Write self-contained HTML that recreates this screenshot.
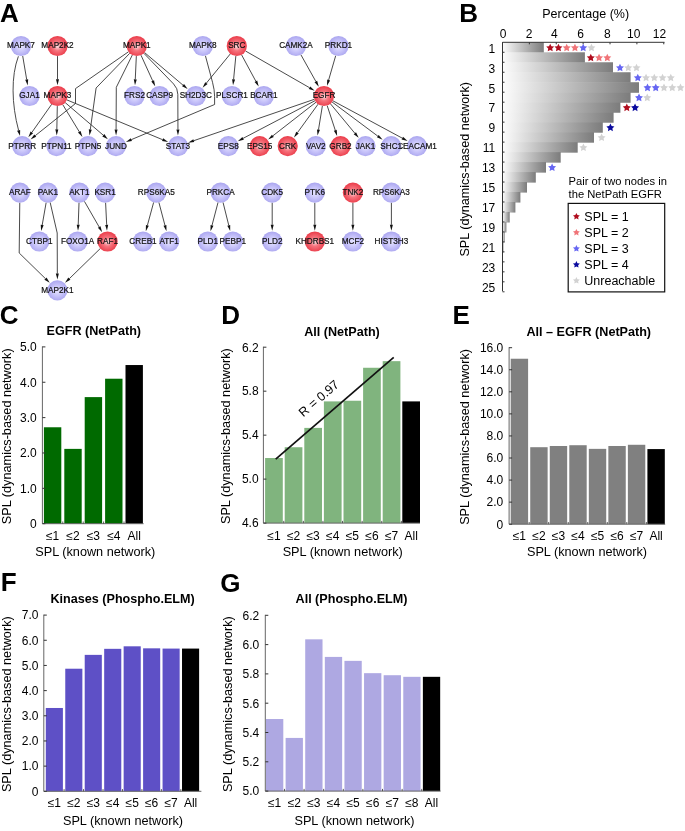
<!DOCTYPE html>
<html><head><meta charset="utf-8"><style>
html,body{margin:0;padding:0;background:#fff;}
svg{display:block;will-change:transform;font-family:"Liberation Sans", sans-serif;}
</style></head><body>
<svg width="685" height="831" viewBox="0 0 685 831">
<rect width="685" height="831" fill="#fff"/>
<defs><radialGradient id="gb" cx="50%" cy="52%" r="52%"><stop offset="0" stop-color="#e8e6ff"/><stop offset="0.5" stop-color="#c9c5fa"/><stop offset="1" stop-color="#aaa5ef"/></radialGradient><radialGradient id="gr" cx="50%" cy="52%" r="52%"><stop offset="0" stop-color="#fde2e4"/><stop offset="0.42" stop-color="#f6747e"/><stop offset="1" stop-color="#ea3a48"/></radialGradient><linearGradient id="barg" x1="0" x2="1" y1="0" y2="0"><stop offset="0" stop-color="#fdfdfd"/><stop offset="1" stop-color="#7c7c7c"/></linearGradient></defs>
<path d="M22.69,55.96 L26.70,79.54" fill="none" stroke="#2a2a2a" stroke-width="0.85"/>
<path d="M27.71,85.45 L25.22,79.79 L28.18,79.28 Z" fill="#111"/>
<path d="M57.50,56.10 L57.50,79.30" fill="none" stroke="#2a2a2a" stroke-width="0.85"/>
<path d="M57.50,85.30 L56.00,79.30 L59.00,79.30 Z" fill="#111"/>
<path d="M128.51,51.76 L75.50,88.60 L75.50,103.50 L35.25,135.67" fill="none" stroke="#2a2a2a" stroke-width="0.85"/>
<path d="M30.56,139.42 L34.31,134.50 L36.18,136.85 Z" fill="#111"/>
<path d="M129.77,53.25 L96.10,88.00 L90.31,129.56" fill="none" stroke="#2a2a2a" stroke-width="0.85"/>
<path d="M89.48,135.50 L88.82,129.35 L91.79,129.77 Z" fill="#111"/>
<path d="M132.31,55.05 L116.30,87.30 L116.09,129.40" fill="none" stroke="#2a2a2a" stroke-width="0.85"/>
<path d="M116.05,135.40 L114.59,129.39 L117.59,129.41 Z" fill="#111"/>
<path d="M136.34,56.09 L135.27,79.32" fill="none" stroke="#2a2a2a" stroke-width="0.85"/>
<path d="M134.99,85.31 L133.77,79.25 L136.77,79.39 Z" fill="#111"/>
<path d="M140.99,55.19 L152.67,80.81" fill="none" stroke="#2a2a2a" stroke-width="0.85"/>
<path d="M155.16,86.26 L151.31,81.43 L154.04,80.18 Z" fill="#111"/>
<path d="M144.51,52.53 L183.06,85.20" fill="none" stroke="#2a2a2a" stroke-width="0.85"/>
<path d="M187.64,89.08 L182.09,86.35 L184.03,84.06 Z" fill="#111"/>
<path d="M143.83,53.25 L173.62,83.99 Q177.80,88.30 177.82,94.30 L177.94,129.40" fill="none" stroke="#2a2a2a" stroke-width="0.85"/>
<path d="M177.96,135.40 L176.44,129.41 L179.44,129.39 Z" fill="#111"/>
<path d="M205.42,55.76 L212.53,82.27 Q214.60,90.00 214.60,96.53 L214.60,104.49 Q214.60,104.50 214.59,104.50 L131.39,139.61" fill="none" stroke="#2a2a2a" stroke-width="0.85"/>
<path d="M125.86,141.94 L130.80,138.23 L131.97,140.99 Z" fill="#111"/>
<path d="M230.40,53.81 L206.39,83.09" fill="none" stroke="#2a2a2a" stroke-width="0.85"/>
<path d="M202.58,87.73 L205.23,82.14 L207.55,84.04 Z" fill="#111"/>
<path d="M235.83,56.05 L233.60,79.38" fill="none" stroke="#2a2a2a" stroke-width="0.85"/>
<path d="M233.02,85.35 L232.10,79.23 L235.09,79.52 Z" fill="#111"/>
<path d="M241.60,54.89 L255.87,81.31" fill="none" stroke="#2a2a2a" stroke-width="0.85"/>
<path d="M258.72,86.59 L254.55,82.02 L257.18,80.59 Z" fill="#111"/>
<path d="M245.56,51.02 L309.51,87.69" fill="none" stroke="#2a2a2a" stroke-width="0.85"/>
<path d="M314.72,90.68 L308.77,88.99 L310.26,86.39 Z" fill="#111"/>
<path d="M300.93,54.81 L315.84,81.43" fill="none" stroke="#2a2a2a" stroke-width="0.85"/>
<path d="M318.77,86.66 L314.53,82.16 L317.15,80.70 Z" fill="#111"/>
<path d="M335.69,55.70 L328.65,79.96" fill="none" stroke="#2a2a2a" stroke-width="0.85"/>
<path d="M326.98,85.72 L327.21,79.54 L330.09,80.38 Z" fill="#111"/>
<path d="M51.68,104.26 L31.82,132.45" fill="none" stroke="#2a2a2a" stroke-width="0.85"/>
<path d="M28.36,137.35 L30.59,131.58 L33.05,133.31 Z" fill="#111"/>
<path d="M57.30,106.10 L56.83,129.40" fill="none" stroke="#2a2a2a" stroke-width="0.85"/>
<path d="M56.71,135.40 L55.33,129.37 L58.33,129.43 Z" fill="#111"/>
<path d="M62.75,104.63 L79.32,131.84" fill="none" stroke="#2a2a2a" stroke-width="0.85"/>
<path d="M82.44,136.96 L78.03,132.62 L80.60,131.06 Z" fill="#111"/>
<path d="M65.17,102.57 L103.32,135.24" fill="none" stroke="#2a2a2a" stroke-width="0.85"/>
<path d="M107.87,139.14 L102.34,136.38 L104.29,134.10 Z" fill="#111"/>
<path d="M66.83,99.88 L162.58,139.69" fill="none" stroke="#2a2a2a" stroke-width="0.85"/>
<path d="M168.12,141.99 L162.00,141.07 L163.16,138.30 Z" fill="#111"/>
<path d="M314.45,99.28 L193.80,140.68" fill="none" stroke="#2a2a2a" stroke-width="0.85"/>
<path d="M188.12,142.63 L193.31,139.26 L194.28,142.10 Z" fill="#111"/>
<path d="M315.05,100.68 L243.10,138.35" fill="none" stroke="#2a2a2a" stroke-width="0.85"/>
<path d="M237.78,141.14 L242.40,137.03 L243.79,139.68 Z" fill="#111"/>
<path d="M316.03,102.21 L272.87,135.84" fill="none" stroke="#2a2a2a" stroke-width="0.85"/>
<path d="M268.14,139.52 L271.95,134.65 L273.80,137.02 Z" fill="#111"/>
<path d="M318.07,104.18 L297.50,132.58" fill="none" stroke="#2a2a2a" stroke-width="0.85"/>
<path d="M293.98,137.44 L296.28,131.70 L298.71,133.46 Z" fill="#111"/>
<path d="M322.37,105.97 L318.50,129.62" fill="none" stroke="#2a2a2a" stroke-width="0.85"/>
<path d="M317.53,135.54 L317.02,129.38 L319.98,129.86 Z" fill="#111"/>
<path d="M327.16,105.59 L335.28,130.24" fill="none" stroke="#2a2a2a" stroke-width="0.85"/>
<path d="M337.15,135.94 L333.85,130.71 L336.70,129.77 Z" fill="#111"/>
<path d="M330.44,103.78 L354.85,133.24" fill="none" stroke="#2a2a2a" stroke-width="0.85"/>
<path d="M358.67,137.86 L353.69,134.20 L356.00,132.28 Z" fill="#111"/>
<path d="M332.10,102.04 L377.81,136.12" fill="none" stroke="#2a2a2a" stroke-width="0.85"/>
<path d="M382.62,139.70 L376.91,137.32 L378.71,134.92 Z" fill="#111"/>
<path d="M332.89,100.79 L402.30,138.18" fill="none" stroke="#2a2a2a" stroke-width="0.85"/>
<path d="M407.58,141.03 L401.59,139.50 L403.01,136.86 Z" fill="#111"/>
<path d="M19.78,202.70 L19.20,253.00 L45.45,278.63" fill="none" stroke="#2a2a2a" stroke-width="0.85"/>
<path d="M49.74,282.82 L44.40,279.71 L46.50,277.56 Z" fill="#111"/>
<path d="M46.15,202.55 L42.19,225.05" fill="none" stroke="#2a2a2a" stroke-width="0.85"/>
<path d="M41.15,230.96 L40.72,224.79 L43.67,225.31 Z" fill="#111"/>
<path d="M50.17,202.44 L57.20,233.00 L57.34,273.60" fill="none" stroke="#2a2a2a" stroke-width="0.85"/>
<path d="M57.36,279.60 L55.84,273.61 L58.84,273.59 Z" fill="#111"/>
<path d="M79.03,202.69 L78.21,224.81" fill="none" stroke="#2a2a2a" stroke-width="0.85"/>
<path d="M77.99,230.81 L76.72,224.76 L79.71,224.87 Z" fill="#111"/>
<path d="M84.43,201.36 L99.18,227.02" fill="none" stroke="#2a2a2a" stroke-width="0.85"/>
<path d="M102.17,232.22 L97.88,227.77 L100.48,226.27 Z" fill="#111"/>
<path d="M105.60,202.69 L106.68,224.82" fill="none" stroke="#2a2a2a" stroke-width="0.85"/>
<path d="M106.98,230.81 L105.18,224.89 L108.18,224.75 Z" fill="#111"/>
<path d="M100.26,248.55 L69.36,278.65" fill="none" stroke="#2a2a2a" stroke-width="0.85"/>
<path d="M65.06,282.83 L68.32,277.57 L70.41,279.72 Z" fill="#111"/>
<path d="M153.65,202.35 L147.38,225.39" fill="none" stroke="#2a2a2a" stroke-width="0.85"/>
<path d="M145.81,231.18 L145.94,224.99 L148.83,225.78 Z" fill="#111"/>
<path d="M158.88,202.37 L164.94,225.35" fill="none" stroke="#2a2a2a" stroke-width="0.85"/>
<path d="M166.47,231.15 L163.49,225.74 L166.39,224.97 Z" fill="#111"/>
<path d="M218.04,202.37 L212.03,225.34" fill="none" stroke="#2a2a2a" stroke-width="0.85"/>
<path d="M210.51,231.15 L210.58,224.96 L213.48,225.72 Z" fill="#111"/>
<path d="M223.04,202.40 L228.76,225.30" fill="none" stroke="#2a2a2a" stroke-width="0.85"/>
<path d="M230.21,231.12 L227.30,225.66 L230.21,224.93 Z" fill="#111"/>
<path d="M272.20,202.70 L272.20,224.80" fill="none" stroke="#2a2a2a" stroke-width="0.85"/>
<path d="M272.20,230.80 L270.70,224.80 L273.70,224.80 Z" fill="#111"/>
<path d="M314.80,202.70 L314.80,224.80" fill="none" stroke="#2a2a2a" stroke-width="0.85"/>
<path d="M314.80,230.80 L313.30,224.80 L316.30,224.80 Z" fill="#111"/>
<path d="M352.90,202.70 L352.90,224.80" fill="none" stroke="#2a2a2a" stroke-width="0.85"/>
<path d="M352.90,230.80 L351.40,224.80 L354.40,224.80 Z" fill="#111"/>
<path d="M391.40,202.70 L391.40,224.80" fill="none" stroke="#2a2a2a" stroke-width="0.85"/>
<path d="M391.40,230.80 L389.90,224.80 L392.90,224.80 Z" fill="#111"/>
<path d="M18.40,56.30 C11.00,76.00 11.50,104.00 18.60,130.40" fill="none" stroke="#2a2a2a" stroke-width="0.85"/>
<path d="M20.03,135.71 L17.05,130.82 L20.15,129.98 Z" fill="#111"/>
<circle cx="21.0" cy="46.0" r="10.1" fill="url(#gb)"/>
<text x="21.00" y="48.40" font-size="8.2" text-anchor="middle" fill="#111" stroke="#111" stroke-width="0.2">MAPK7</text>
<circle cx="57.5" cy="46.0" r="10.1" fill="url(#gr)"/>
<text x="57.50" y="48.40" font-size="8.2" text-anchor="middle" fill="#111" stroke="#111" stroke-width="0.2">MAP2K2</text>
<circle cx="136.8" cy="46.0" r="10.1" fill="url(#gr)"/>
<text x="136.80" y="48.40" font-size="8.2" text-anchor="middle" fill="#111" stroke="#111" stroke-width="0.2">MAPK1</text>
<circle cx="202.8" cy="46.0" r="10.1" fill="url(#gb)"/>
<text x="202.80" y="48.40" font-size="8.2" text-anchor="middle" fill="#111" stroke="#111" stroke-width="0.2">MAPK8</text>
<circle cx="236.8" cy="46.0" r="10.1" fill="url(#gr)"/>
<text x="236.80" y="48.40" font-size="8.2" text-anchor="middle" fill="#111" stroke="#111" stroke-width="0.2">SRC</text>
<circle cx="296.0" cy="46.0" r="10.1" fill="url(#gb)"/>
<text x="296.00" y="48.40" font-size="8.2" text-anchor="middle" fill="#111" stroke="#111" stroke-width="0.2">CAMK2A</text>
<circle cx="338.5" cy="46.0" r="10.1" fill="url(#gb)"/>
<text x="338.50" y="48.40" font-size="8.2" text-anchor="middle" fill="#111" stroke="#111" stroke-width="0.2">PRKD1</text>
<circle cx="29.5" cy="96.0" r="10.1" fill="url(#gb)"/>
<text x="29.50" y="98.40" font-size="8.2" text-anchor="middle" fill="#111" stroke="#111" stroke-width="0.2">GJA1</text>
<circle cx="57.5" cy="96.0" r="10.1" fill="url(#gr)"/>
<text x="57.50" y="98.40" font-size="8.2" text-anchor="middle" fill="#111" stroke="#111" stroke-width="0.2">MAPK3</text>
<circle cx="134.5" cy="96.0" r="10.1" fill="url(#gb)"/>
<text x="134.50" y="98.40" font-size="8.2" text-anchor="middle" fill="#111" stroke="#111" stroke-width="0.2">FRS2</text>
<circle cx="159.6" cy="96.0" r="10.1" fill="url(#gb)"/>
<text x="159.60" y="98.40" font-size="8.2" text-anchor="middle" fill="#111" stroke="#111" stroke-width="0.2">CASP9</text>
<circle cx="195.8" cy="96.0" r="10.1" fill="url(#gb)"/>
<text x="195.80" y="98.40" font-size="8.2" text-anchor="middle" fill="#111" stroke="#111" stroke-width="0.2">SH2D3C</text>
<circle cx="232.0" cy="96.0" r="10.1" fill="url(#gb)"/>
<text x="232.00" y="98.40" font-size="8.2" text-anchor="middle" fill="#111" stroke="#111" stroke-width="0.2">PLSCR1</text>
<circle cx="263.8" cy="96.0" r="10.1" fill="url(#gb)"/>
<text x="263.80" y="98.40" font-size="8.2" text-anchor="middle" fill="#111" stroke="#111" stroke-width="0.2">BCAR1</text>
<circle cx="324.0" cy="96.0" r="10.1" fill="url(#gr)"/>
<text x="324.00" y="98.40" font-size="8.2" text-anchor="middle" fill="#111" stroke="#111" stroke-width="0.2">EGFR</text>
<circle cx="22.2" cy="146.1" r="10.1" fill="url(#gb)"/>
<text x="22.20" y="148.50" font-size="8.2" text-anchor="middle" fill="#111" stroke="#111" stroke-width="0.2">PTPRR</text>
<circle cx="56.5" cy="146.1" r="10.1" fill="url(#gb)"/>
<text x="56.50" y="148.50" font-size="8.2" text-anchor="middle" fill="#111" stroke="#111" stroke-width="0.2">PTPN11</text>
<circle cx="88.0" cy="146.1" r="10.1" fill="url(#gb)"/>
<text x="88.00" y="148.50" font-size="8.2" text-anchor="middle" fill="#111" stroke="#111" stroke-width="0.2">PTPN5</text>
<circle cx="116.0" cy="146.1" r="10.1" fill="url(#gb)"/>
<text x="116.00" y="148.50" font-size="8.2" text-anchor="middle" fill="#111" stroke="#111" stroke-width="0.2">JUND</text>
<circle cx="178.0" cy="146.1" r="10.1" fill="url(#gb)"/>
<text x="178.00" y="148.50" font-size="8.2" text-anchor="middle" fill="#111" stroke="#111" stroke-width="0.2">STAT3</text>
<circle cx="228.3" cy="146.1" r="10.1" fill="url(#gb)"/>
<text x="228.30" y="148.50" font-size="8.2" text-anchor="middle" fill="#111" stroke="#111" stroke-width="0.2">EPS8</text>
<circle cx="259.7" cy="146.1" r="10.1" fill="url(#gr)"/>
<text x="259.70" y="148.50" font-size="8.2" text-anchor="middle" fill="#111" stroke="#111" stroke-width="0.2">EPS15</text>
<circle cx="287.7" cy="146.1" r="10.1" fill="url(#gr)"/>
<text x="287.70" y="148.50" font-size="8.2" text-anchor="middle" fill="#111" stroke="#111" stroke-width="0.2">CRK</text>
<circle cx="315.8" cy="146.1" r="10.1" fill="url(#gb)"/>
<text x="315.80" y="148.50" font-size="8.2" text-anchor="middle" fill="#111" stroke="#111" stroke-width="0.2">VAV2</text>
<circle cx="340.5" cy="146.1" r="10.1" fill="url(#gr)"/>
<text x="340.50" y="148.50" font-size="8.2" text-anchor="middle" fill="#111" stroke="#111" stroke-width="0.2">GRB2</text>
<circle cx="365.5" cy="146.1" r="10.1" fill="url(#gb)"/>
<text x="365.50" y="148.50" font-size="8.2" text-anchor="middle" fill="#111" stroke="#111" stroke-width="0.2">JAK1</text>
<circle cx="417.0" cy="146.1" r="10.1" fill="url(#gb)"/>
<text x="417.00" y="148.50" font-size="8.2" text-anchor="middle" fill="#111" stroke="#111" stroke-width="0.2">CEACAM1</text>
<circle cx="391.2" cy="146.1" r="10.1" fill="url(#gb)"/>
<text x="391.20" y="148.50" font-size="8.2" text-anchor="middle" fill="#111" stroke="#111" stroke-width="0.2">SHC1</text>
<circle cx="19.9" cy="192.6" r="10.1" fill="url(#gb)"/>
<text x="19.90" y="195.00" font-size="8.2" text-anchor="middle" fill="#111" stroke="#111" stroke-width="0.2">ARAF</text>
<circle cx="47.9" cy="192.6" r="10.1" fill="url(#gb)"/>
<text x="47.90" y="195.00" font-size="8.2" text-anchor="middle" fill="#111" stroke="#111" stroke-width="0.2">PAK1</text>
<circle cx="79.4" cy="192.6" r="10.1" fill="url(#gb)"/>
<text x="79.40" y="195.00" font-size="8.2" text-anchor="middle" fill="#111" stroke="#111" stroke-width="0.2">AKT1</text>
<circle cx="105.1" cy="192.6" r="10.1" fill="url(#gb)"/>
<text x="105.10" y="195.00" font-size="8.2" text-anchor="middle" fill="#111" stroke="#111" stroke-width="0.2">KSR1</text>
<circle cx="156.3" cy="192.6" r="10.1" fill="url(#gb)"/>
<text x="156.30" y="195.00" font-size="8.2" text-anchor="middle" fill="#111" stroke="#111" stroke-width="0.2">RPS6KA5</text>
<circle cx="220.6" cy="192.6" r="10.1" fill="url(#gb)"/>
<text x="220.60" y="195.00" font-size="8.2" text-anchor="middle" fill="#111" stroke="#111" stroke-width="0.2">PRKCA</text>
<circle cx="272.2" cy="192.6" r="10.1" fill="url(#gb)"/>
<text x="272.20" y="195.00" font-size="8.2" text-anchor="middle" fill="#111" stroke="#111" stroke-width="0.2">CDK5</text>
<circle cx="314.8" cy="192.6" r="10.1" fill="url(#gb)"/>
<text x="314.80" y="195.00" font-size="8.2" text-anchor="middle" fill="#111" stroke="#111" stroke-width="0.2">PTK6</text>
<circle cx="352.9" cy="192.6" r="10.1" fill="url(#gr)"/>
<text x="352.90" y="195.00" font-size="8.2" text-anchor="middle" fill="#111" stroke="#111" stroke-width="0.2">TNK2</text>
<circle cx="391.4" cy="192.6" r="10.1" fill="url(#gb)"/>
<text x="391.40" y="195.00" font-size="8.2" text-anchor="middle" fill="#111" stroke="#111" stroke-width="0.2">RPS6KA3</text>
<circle cx="39.3" cy="241.5" r="10.1" fill="url(#gb)"/>
<text x="39.30" y="243.90" font-size="8.2" text-anchor="middle" fill="#111" stroke="#111" stroke-width="0.2">CTBP1</text>
<circle cx="77.6" cy="241.5" r="10.1" fill="url(#gb)"/>
<text x="77.60" y="243.90" font-size="8.2" text-anchor="middle" fill="#111" stroke="#111" stroke-width="0.2">FOXO1A</text>
<circle cx="107.5" cy="241.5" r="10.1" fill="url(#gr)"/>
<text x="107.50" y="243.90" font-size="8.2" text-anchor="middle" fill="#111" stroke="#111" stroke-width="0.2">RAF1</text>
<circle cx="143.0" cy="241.5" r="10.1" fill="url(#gb)"/>
<text x="143.00" y="243.90" font-size="8.2" text-anchor="middle" fill="#111" stroke="#111" stroke-width="0.2">CREB1</text>
<circle cx="169.2" cy="241.5" r="10.1" fill="url(#gb)"/>
<text x="169.20" y="243.90" font-size="8.2" text-anchor="middle" fill="#111" stroke="#111" stroke-width="0.2">ATF1</text>
<circle cx="207.8" cy="241.5" r="10.1" fill="url(#gb)"/>
<text x="207.80" y="243.90" font-size="8.2" text-anchor="middle" fill="#111" stroke="#111" stroke-width="0.2">PLD1</text>
<circle cx="232.8" cy="241.5" r="10.1" fill="url(#gb)"/>
<text x="232.80" y="243.90" font-size="8.2" text-anchor="middle" fill="#111" stroke="#111" stroke-width="0.2">PEBP1</text>
<circle cx="272.2" cy="241.5" r="10.1" fill="url(#gb)"/>
<text x="272.20" y="243.90" font-size="8.2" text-anchor="middle" fill="#111" stroke="#111" stroke-width="0.2">PLD2</text>
<circle cx="314.8" cy="241.5" r="10.1" fill="url(#gr)"/>
<text x="314.80" y="243.90" font-size="8.2" text-anchor="middle" fill="#111" stroke="#111" stroke-width="0.2">KHDRBS1</text>
<circle cx="352.9" cy="241.5" r="10.1" fill="url(#gb)"/>
<text x="352.90" y="243.90" font-size="8.2" text-anchor="middle" fill="#111" stroke="#111" stroke-width="0.2">MCF2</text>
<circle cx="391.4" cy="241.5" r="10.1" fill="url(#gb)"/>
<text x="391.40" y="243.90" font-size="8.2" text-anchor="middle" fill="#111" stroke="#111" stroke-width="0.2">HIST3H3</text>
<circle cx="57.4" cy="290.3" r="10.1" fill="url(#gb)"/>
<text x="57.40" y="292.70" font-size="8.2" text-anchor="middle" fill="#111" stroke="#111" stroke-width="0.2">MAP2K1</text>
<text x="-0.1" y="21.9" font-size="26" font-weight="bold" fill="#000">A</text>
<text x="459.2" y="21.7" font-size="26" font-weight="bold" fill="#000">B</text>
<text x="-0.2" y="324.3" font-size="26" font-weight="bold" fill="#000">C</text>
<text x="221.2" y="323.6" font-size="26" font-weight="bold" fill="#000">D</text>
<text x="452.4" y="324.3" font-size="26" font-weight="bold" fill="#000">E</text>
<text x="0.7" y="591.3" font-size="26" font-weight="bold" fill="#000">F</text>
<text x="220.3" y="591.7" font-size="26" font-weight="bold" fill="#000">G</text>
<rect x="502.50" y="42.30" width="41.30" height="10.58" fill="url(#barg)"/>
<rect x="502.50" y="52.28" width="82.40" height="10.58" fill="url(#barg)"/>
<rect x="502.50" y="62.26" width="110.50" height="10.58" fill="url(#barg)"/>
<rect x="502.50" y="72.24" width="128.10" height="10.58" fill="url(#barg)"/>
<rect x="502.50" y="82.22" width="136.50" height="10.58" fill="url(#barg)"/>
<rect x="502.50" y="92.20" width="128.10" height="10.58" fill="url(#barg)"/>
<rect x="502.50" y="102.18" width="117.90" height="10.58" fill="url(#barg)"/>
<rect x="502.50" y="112.16" width="111.10" height="10.58" fill="url(#barg)"/>
<rect x="502.50" y="122.14" width="100.30" height="10.58" fill="url(#barg)"/>
<rect x="502.50" y="132.12" width="91.50" height="10.58" fill="url(#barg)"/>
<rect x="502.50" y="142.10" width="75.20" height="10.58" fill="url(#barg)"/>
<rect x="502.50" y="152.08" width="58.20" height="10.58" fill="url(#barg)"/>
<rect x="502.50" y="162.06" width="43.50" height="10.58" fill="url(#barg)"/>
<rect x="502.50" y="172.04" width="33.30" height="10.58" fill="url(#barg)"/>
<rect x="502.50" y="182.02" width="24.50" height="10.58" fill="url(#barg)"/>
<rect x="502.50" y="192.00" width="17.90" height="10.58" fill="url(#barg)"/>
<rect x="502.50" y="201.98" width="12.90" height="10.58" fill="url(#barg)"/>
<rect x="502.50" y="211.96" width="7.20" height="10.58" fill="url(#barg)"/>
<rect x="502.50" y="221.94" width="3.90" height="10.58" fill="url(#barg)"/>
<rect x="502.50" y="231.92" width="2.20" height="10.58" fill="url(#barg)"/>
<rect x="502.50" y="241.90" width="0.90" height="10.58" fill="url(#barg)"/>
<path d="M502.5,42.3 H664.5 M502.5,42.3 V291.3" stroke="#333" stroke-width="1" fill="none"/>
<path d="M502.50,42.3 v2" stroke="#333" stroke-width="1"/>
<text x="503.10" y="37.5" font-size="12" text-anchor="middle">0</text>
<path d="M529.38,42.3 v2" stroke="#333" stroke-width="1"/>
<text x="529.00" y="37.5" font-size="12" text-anchor="middle">2</text>
<path d="M556.26,42.3 v2" stroke="#333" stroke-width="1"/>
<text x="554.40" y="37.5" font-size="12" text-anchor="middle">4</text>
<path d="M583.14,42.3 v2" stroke="#333" stroke-width="1"/>
<text x="580.70" y="37.5" font-size="12" text-anchor="middle">6</text>
<path d="M610.02,42.3 v2" stroke="#333" stroke-width="1"/>
<text x="607.30" y="37.5" font-size="12" text-anchor="middle">8</text>
<path d="M636.90,42.3 v2" stroke="#333" stroke-width="1"/>
<text x="633.80" y="37.5" font-size="12" text-anchor="middle">10</text>
<path d="M663.78,42.3 v2" stroke="#333" stroke-width="1"/>
<text x="659.50" y="37.5" font-size="12" text-anchor="middle">12</text>
<path d="M502.5,52.28 h2" stroke="#333" stroke-width="1"/>
<path d="M502.5,62.26 h2" stroke="#333" stroke-width="1"/>
<path d="M502.5,72.24 h2" stroke="#333" stroke-width="1"/>
<path d="M502.5,82.22 h2" stroke="#333" stroke-width="1"/>
<path d="M502.5,92.20 h2" stroke="#333" stroke-width="1"/>
<path d="M502.5,102.18 h2" stroke="#333" stroke-width="1"/>
<path d="M502.5,112.16 h2" stroke="#333" stroke-width="1"/>
<path d="M502.5,122.14 h2" stroke="#333" stroke-width="1"/>
<path d="M502.5,132.12 h2" stroke="#333" stroke-width="1"/>
<path d="M502.5,142.10 h2" stroke="#333" stroke-width="1"/>
<path d="M502.5,152.08 h2" stroke="#333" stroke-width="1"/>
<path d="M502.5,162.06 h2" stroke="#333" stroke-width="1"/>
<path d="M502.5,172.04 h2" stroke="#333" stroke-width="1"/>
<path d="M502.5,182.02 h2" stroke="#333" stroke-width="1"/>
<path d="M502.5,192.00 h2" stroke="#333" stroke-width="1"/>
<path d="M502.5,201.98 h2" stroke="#333" stroke-width="1"/>
<path d="M502.5,211.96 h2" stroke="#333" stroke-width="1"/>
<path d="M502.5,221.94 h2" stroke="#333" stroke-width="1"/>
<path d="M502.5,231.92 h2" stroke="#333" stroke-width="1"/>
<path d="M502.5,241.90 h2" stroke="#333" stroke-width="1"/>
<path d="M502.5,251.88 h2" stroke="#333" stroke-width="1"/>
<path d="M502.5,261.86 h2" stroke="#333" stroke-width="1"/>
<path d="M502.5,271.84 h2" stroke="#333" stroke-width="1"/>
<path d="M502.5,281.82 h2" stroke="#333" stroke-width="1"/>
<path d="M502.5,291.80 h2" stroke="#333" stroke-width="1"/>
<text x="495.3" y="52.60" font-size="12" text-anchor="end">1</text>
<text x="495.3" y="72.56" font-size="12" text-anchor="end">3</text>
<text x="495.3" y="92.52" font-size="12" text-anchor="end">5</text>
<text x="495.3" y="112.48" font-size="12" text-anchor="end">7</text>
<text x="495.3" y="132.44" font-size="12" text-anchor="end">9</text>
<text x="495.3" y="152.40" font-size="12" text-anchor="end">11</text>
<text x="495.3" y="172.36" font-size="12" text-anchor="end">13</text>
<text x="495.3" y="192.32" font-size="12" text-anchor="end">15</text>
<text x="495.3" y="212.28" font-size="12" text-anchor="end">17</text>
<text x="495.3" y="232.24" font-size="12" text-anchor="end">19</text>
<text x="495.3" y="252.20" font-size="12" text-anchor="end">21</text>
<text x="495.3" y="272.16" font-size="12" text-anchor="end">23</text>
<text x="495.3" y="292.12" font-size="12" text-anchor="end">25</text>
<text x="585.7" y="17.6" font-size="12.5" text-anchor="middle">Percentage (%)</text>
<text transform="translate(469,169.3) rotate(-90)" font-size="12.6" text-anchor="middle">SPL (dynamics-based network)</text>
<polygon points="550.20,43.69 551.43,46.19 554.19,46.59 552.20,48.54 552.67,51.29 550.20,49.99 547.73,51.29 548.20,48.54 546.21,46.59 548.97,46.19" fill="#b00d1e"/>
<polygon points="558.45,43.69 559.68,46.19 562.44,46.59 560.45,48.54 560.92,51.29 558.45,49.99 555.98,51.29 556.45,48.54 554.46,46.59 557.22,46.19" fill="#b00d1e"/>
<polygon points="566.70,43.69 567.93,46.19 570.69,46.59 568.70,48.54 569.17,51.29 566.70,49.99 564.23,51.29 564.70,48.54 562.71,46.59 565.47,46.19" fill="#f07478"/>
<polygon points="574.95,43.69 576.18,46.19 578.94,46.59 576.95,48.54 577.42,51.29 574.95,49.99 572.48,51.29 572.95,48.54 570.96,46.59 573.72,46.19" fill="#f07478"/>
<polygon points="583.20,43.69 584.43,46.19 587.19,46.59 585.20,48.54 585.67,51.29 583.20,49.99 580.73,51.29 581.20,48.54 579.21,46.59 581.97,46.19" fill="#6666f2"/>
<polygon points="591.45,43.69 592.68,46.19 595.44,46.59 593.45,48.54 593.92,51.29 591.45,49.99 588.98,51.29 589.45,48.54 587.46,46.59 590.22,46.19" fill="#d2d2d2"/>
<polygon points="590.80,53.67 592.03,56.17 594.79,56.57 592.80,58.52 593.27,61.27 590.80,59.97 588.33,61.27 588.80,58.52 586.81,56.57 589.57,56.17" fill="#b00d1e"/>
<polygon points="599.05,53.67 600.28,56.17 603.04,56.57 601.05,58.52 601.52,61.27 599.05,59.97 596.58,61.27 597.05,58.52 595.06,56.57 597.82,56.17" fill="#f07478"/>
<polygon points="607.30,53.67 608.53,56.17 611.29,56.57 609.30,58.52 609.77,61.27 607.30,59.97 604.83,61.27 605.30,58.52 603.31,56.57 606.07,56.17" fill="#f07478"/>
<polygon points="620.00,63.65 621.23,66.15 623.99,66.55 622.00,68.50 622.47,71.25 620.00,69.95 617.53,71.25 618.00,68.50 616.01,66.55 618.77,66.15" fill="#6666f2"/>
<polygon points="628.25,63.65 629.48,66.15 632.24,66.55 630.25,68.50 630.72,71.25 628.25,69.95 625.78,71.25 626.25,68.50 624.26,66.55 627.02,66.15" fill="#d2d2d2"/>
<polygon points="636.50,63.65 637.73,66.15 640.49,66.55 638.50,68.50 638.97,71.25 636.50,69.95 634.03,71.25 634.50,68.50 632.51,66.55 635.27,66.15" fill="#d2d2d2"/>
<polygon points="637.80,73.63 639.03,76.13 641.79,76.53 639.80,78.48 640.27,81.23 637.80,79.93 635.33,81.23 635.80,78.48 633.81,76.53 636.57,76.13" fill="#6666f2"/>
<polygon points="646.05,73.63 647.28,76.13 650.04,76.53 648.05,78.48 648.52,81.23 646.05,79.93 643.58,81.23 644.05,78.48 642.06,76.53 644.82,76.13" fill="#d2d2d2"/>
<polygon points="654.30,73.63 655.53,76.13 658.29,76.53 656.30,78.48 656.77,81.23 654.30,79.93 651.83,81.23 652.30,78.48 650.31,76.53 653.07,76.13" fill="#d2d2d2"/>
<polygon points="662.55,73.63 663.78,76.13 666.54,76.53 664.55,78.48 665.02,81.23 662.55,79.93 660.08,81.23 660.55,78.48 658.56,76.53 661.32,76.13" fill="#d2d2d2"/>
<polygon points="670.80,73.63 672.03,76.13 674.79,76.53 672.80,78.48 673.27,81.23 670.80,79.93 668.33,81.23 668.80,78.48 666.81,76.53 669.57,76.13" fill="#d2d2d2"/>
<polygon points="647.50,83.61 648.73,86.11 651.49,86.51 649.50,88.46 649.97,91.21 647.50,89.91 645.03,91.21 645.50,88.46 643.51,86.51 646.27,86.11" fill="#6666f2"/>
<polygon points="655.75,83.61 656.98,86.11 659.74,86.51 657.75,88.46 658.22,91.21 655.75,89.91 653.28,91.21 653.75,88.46 651.76,86.51 654.52,86.11" fill="#6666f2"/>
<polygon points="664.00,83.61 665.23,86.11 667.99,86.51 666.00,88.46 666.47,91.21 664.00,89.91 661.53,91.21 662.00,88.46 660.01,86.51 662.77,86.11" fill="#d2d2d2"/>
<polygon points="672.25,83.61 673.48,86.11 676.24,86.51 674.25,88.46 674.72,91.21 672.25,89.91 669.78,91.21 670.25,88.46 668.26,86.51 671.02,86.11" fill="#d2d2d2"/>
<polygon points="680.50,83.61 681.73,86.11 684.49,86.51 682.50,88.46 682.97,91.21 680.50,89.91 678.03,91.21 678.50,88.46 676.51,86.51 679.27,86.11" fill="#d2d2d2"/>
<polygon points="639.00,93.59 640.23,96.09 642.99,96.49 641.00,98.44 641.47,101.19 639.00,99.89 636.53,101.19 637.00,98.44 635.01,96.49 637.77,96.09" fill="#6666f2"/>
<polygon points="647.25,93.59 648.48,96.09 651.24,96.49 649.25,98.44 649.72,101.19 647.25,99.89 644.78,101.19 645.25,98.44 643.26,96.49 646.02,96.09" fill="#d2d2d2"/>
<polygon points="626.80,103.57 628.03,106.07 630.79,106.47 628.80,108.42 629.27,111.17 626.80,109.87 624.33,111.17 624.80,108.42 622.81,106.47 625.57,106.07" fill="#b00d1e"/>
<polygon points="635.05,103.57 636.28,106.07 639.04,106.47 637.05,108.42 637.52,111.17 635.05,109.87 632.58,111.17 633.05,108.42 631.06,106.47 633.82,106.07" fill="#0a0a9e"/>
<polygon points="610.40,123.53 611.63,126.03 614.39,126.43 612.40,128.38 612.87,131.13 610.40,129.83 607.93,131.13 608.40,128.38 606.41,126.43 609.17,126.03" fill="#0a0a9e"/>
<polygon points="601.60,133.51 602.83,136.01 605.59,136.41 603.60,138.36 604.07,141.11 601.60,139.81 599.13,141.11 599.60,138.36 597.61,136.41 600.37,136.01" fill="#d2d2d2"/>
<polygon points="583.40,143.49 584.63,145.99 587.39,146.39 585.40,148.34 585.87,151.09 583.40,149.79 580.93,151.09 581.40,148.34 579.41,146.39 582.17,145.99" fill="#d2d2d2"/>
<polygon points="552.10,163.45 553.33,165.95 556.09,166.35 554.10,168.30 554.57,171.05 552.10,169.75 549.63,171.05 550.10,168.30 548.11,166.35 550.87,165.95" fill="#6666f2"/>
<text x="568.6" y="184.8" font-size="11.2">Pair of two nodes in</text>
<text x="568.6" y="197.8" font-size="11.2">the NetPath EGFR</text>
<rect x="568.2" y="203.4" width="96.5" height="88.5" fill="none" stroke="#111" stroke-width="1.2"/>
<polygon points="576.40,212.90 577.46,215.04 579.82,215.39 578.11,217.06 578.52,219.41 576.40,218.30 574.28,219.41 574.69,217.06 572.98,215.39 575.34,215.04" fill="#b00d1e"/>
<text x="584.3" y="220.90" font-size="12.5">SPL = 1</text>
<polygon points="576.40,228.95 577.46,231.09 579.82,231.44 578.11,233.11 578.52,235.46 576.40,234.35 574.28,235.46 574.69,233.11 572.98,231.44 575.34,231.09" fill="#f07478"/>
<text x="584.3" y="236.95" font-size="12.5">SPL = 2</text>
<polygon points="576.40,245.00 577.46,247.14 579.82,247.49 578.11,249.16 578.52,251.51 576.40,250.40 574.28,251.51 574.69,249.16 572.98,247.49 575.34,247.14" fill="#6666f2"/>
<text x="584.3" y="253.00" font-size="12.5">SPL = 3</text>
<polygon points="576.40,261.05 577.46,263.19 579.82,263.54 578.11,265.21 578.52,267.56 576.40,266.45 574.28,267.56 574.69,265.21 572.98,263.54 575.34,263.19" fill="#0a0a9e"/>
<text x="584.3" y="269.05" font-size="12.5">SPL = 4</text>
<polygon points="576.40,277.10 577.46,279.24 579.82,279.59 578.11,281.26 578.52,283.61 576.40,282.50 574.28,283.61 574.69,281.26 572.98,279.59 575.34,279.24" fill="#d2d2d2"/>
<text x="584.3" y="285.10" font-size="12.5">Unreachable</text>
<rect x="43.90" y="427.27" width="17.40" height="96.43" fill="#006a00"/>
<rect x="64.30" y="448.88" width="17.40" height="74.82" fill="#006a00"/>
<rect x="84.70" y="397.11" width="17.40" height="126.59" fill="#006a00"/>
<rect x="105.10" y="378.72" width="17.40" height="144.98" fill="#006a00"/>
<rect x="125.50" y="365.04" width="17.40" height="158.66" fill="#000"/>
<path d="M42.40,346.40 V523.70 H143.60" stroke="#666" stroke-width="1" fill="none"/>
<path d="M42.40,523.70 h3" stroke="#333" stroke-width="1"/>
<text x="36.80" y="528.00" font-size="12" text-anchor="end">0</text>
<path d="M42.40,488.34 h3" stroke="#333" stroke-width="1"/>
<text x="36.80" y="492.64" font-size="12" text-anchor="end">1.0</text>
<path d="M42.40,452.98 h3" stroke="#333" stroke-width="1"/>
<text x="36.80" y="457.28" font-size="12" text-anchor="end">2.0</text>
<path d="M42.40,417.62 h3" stroke="#333" stroke-width="1"/>
<text x="36.80" y="421.92" font-size="12" text-anchor="end">3.0</text>
<path d="M42.40,382.26 h3" stroke="#333" stroke-width="1"/>
<text x="36.80" y="386.56" font-size="12" text-anchor="end">4.0</text>
<path d="M42.40,346.90 h3" stroke="#333" stroke-width="1"/>
<text x="36.80" y="351.20" font-size="12" text-anchor="end">5.0</text>
<path d="M62.80,523.70 v-2.2" stroke="#333" stroke-width="0.8"/>
<path d="M83.20,523.70 v-2.2" stroke="#333" stroke-width="0.8"/>
<path d="M103.60,523.70 v-2.2" stroke="#333" stroke-width="0.8"/>
<path d="M124.00,523.70 v-2.2" stroke="#333" stroke-width="0.8"/>
<text x="52.60" y="540.00" font-size="12" text-anchor="middle">&#8804;1</text>
<text x="73.00" y="540.00" font-size="12" text-anchor="middle">&#8804;2</text>
<text x="93.40" y="540.00" font-size="12" text-anchor="middle">&#8804;3</text>
<text x="113.80" y="540.00" font-size="12" text-anchor="middle">&#8804;4</text>
<text x="134.20" y="540.00" font-size="12" text-anchor="middle">All</text>
<text x="93.80" y="335.00" font-size="12.6" font-weight="bold" text-anchor="middle">EGFR (NetPath)</text>
<text x="95.30" y="556.30" font-size="12.7" text-anchor="middle">SPL (known network)</text>
<text transform="translate(10.90,436.30) rotate(-90)" font-size="12.7" text-anchor="middle">SPL (dynamics-based network)</text>
<rect x="265.10" y="458.02" width="17.70" height="65.08" fill="#80b47e"/>
<rect x="284.70" y="447.24" width="17.70" height="75.86" fill="#80b47e"/>
<rect x="304.30" y="427.89" width="17.70" height="95.21" fill="#80b47e"/>
<rect x="323.90" y="401.40" width="17.70" height="121.70" fill="#80b47e"/>
<rect x="343.50" y="400.74" width="17.70" height="122.36" fill="#80b47e"/>
<rect x="363.10" y="367.76" width="17.70" height="155.34" fill="#80b47e"/>
<rect x="382.70" y="361.16" width="17.70" height="161.94" fill="#80b47e"/>
<rect x="402.30" y="401.40" width="17.70" height="121.70" fill="#000"/>
<path d="M263.40,346.70 V523.10 H420.00" stroke="#666" stroke-width="1" fill="none"/>
<path d="M263.40,523.10 h3" stroke="#333" stroke-width="1"/>
<text x="258.60" y="527.40" font-size="12" text-anchor="end">4.6</text>
<path d="M263.40,479.12 h3" stroke="#333" stroke-width="1"/>
<text x="258.60" y="483.43" font-size="12" text-anchor="end">5.0</text>
<path d="M263.40,435.15 h3" stroke="#333" stroke-width="1"/>
<text x="258.60" y="439.45" font-size="12" text-anchor="end">5.4</text>
<path d="M263.40,391.18 h3" stroke="#333" stroke-width="1"/>
<text x="258.60" y="395.48" font-size="12" text-anchor="end">5.8</text>
<path d="M263.40,347.20 h3" stroke="#333" stroke-width="1"/>
<text x="258.60" y="351.50" font-size="12" text-anchor="end">6.2</text>
<path d="M283.75,523.10 v-2.2" stroke="#333" stroke-width="0.8"/>
<path d="M303.35,523.10 v-2.2" stroke="#333" stroke-width="0.8"/>
<path d="M322.95,523.10 v-2.2" stroke="#333" stroke-width="0.8"/>
<path d="M342.55,523.10 v-2.2" stroke="#333" stroke-width="0.8"/>
<path d="M362.15,523.10 v-2.2" stroke="#333" stroke-width="0.8"/>
<path d="M381.75,523.10 v-2.2" stroke="#333" stroke-width="0.8"/>
<path d="M401.35,523.10 v-2.2" stroke="#333" stroke-width="0.8"/>
<text x="273.95" y="540.00" font-size="12" text-anchor="middle">&#8804;1</text>
<text x="293.55" y="540.00" font-size="12" text-anchor="middle">&#8804;2</text>
<text x="313.15" y="540.00" font-size="12" text-anchor="middle">&#8804;3</text>
<text x="332.75" y="540.00" font-size="12" text-anchor="middle">&#8804;4</text>
<text x="352.35" y="540.00" font-size="12" text-anchor="middle">&#8804;5</text>
<text x="371.95" y="540.00" font-size="12" text-anchor="middle">&#8804;6</text>
<text x="391.55" y="540.00" font-size="12" text-anchor="middle">&#8804;7</text>
<text x="411.15" y="540.00" font-size="12" text-anchor="middle">All</text>
<text x="342.00" y="335.60" font-size="12.6" font-weight="bold" text-anchor="middle">All (NetPath)</text>
<text x="342.70" y="556.00" font-size="12.7" text-anchor="middle">SPL (known network)</text>
<text transform="translate(230.30,436.15) rotate(-90)" font-size="12.7" text-anchor="middle">SPL (dynamics-based network)</text>
<path d="M275.7,459.2 L393.7,357.3" stroke="#111" stroke-width="1.7"/>
<text transform="translate(321.6,401.6) rotate(-40.8)" font-size="12.7" text-anchor="middle">R = 0.97</text>
<rect x="510.70" y="358.73" width="17.40" height="165.47" fill="#808080"/>
<rect x="530.23" y="447.20" width="17.40" height="77.00" fill="#808080"/>
<rect x="549.76" y="445.99" width="17.40" height="78.21" fill="#808080"/>
<rect x="569.29" y="445.22" width="17.40" height="78.98" fill="#808080"/>
<rect x="588.82" y="448.86" width="17.40" height="75.34" fill="#808080"/>
<rect x="608.35" y="445.99" width="17.40" height="78.21" fill="#808080"/>
<rect x="627.88" y="444.78" width="17.40" height="79.43" fill="#808080"/>
<rect x="647.41" y="449.08" width="17.40" height="75.12" fill="#000"/>
<path d="M509.10,347.20 V524.20 H665.20" stroke="#666" stroke-width="1" fill="none"/>
<path d="M509.10,524.20 h3" stroke="#333" stroke-width="1"/>
<text x="503.30" y="528.50" font-size="12" text-anchor="end">0</text>
<path d="M509.10,502.14 h3" stroke="#333" stroke-width="1"/>
<text x="503.30" y="506.44" font-size="12" text-anchor="end">2.0</text>
<path d="M509.10,480.08 h3" stroke="#333" stroke-width="1"/>
<text x="503.30" y="484.38" font-size="12" text-anchor="end">4.0</text>
<path d="M509.10,458.01 h3" stroke="#333" stroke-width="1"/>
<text x="503.30" y="462.31" font-size="12" text-anchor="end">6.0</text>
<path d="M509.10,435.95 h3" stroke="#333" stroke-width="1"/>
<text x="503.30" y="440.25" font-size="12" text-anchor="end">8.0</text>
<path d="M509.10,413.89 h3" stroke="#333" stroke-width="1"/>
<text x="503.30" y="418.19" font-size="12" text-anchor="end">10.0</text>
<path d="M509.10,391.82 h3" stroke="#333" stroke-width="1"/>
<text x="503.30" y="396.12" font-size="12" text-anchor="end">12.0</text>
<path d="M509.10,369.76 h3" stroke="#333" stroke-width="1"/>
<text x="503.30" y="374.06" font-size="12" text-anchor="end">14.0</text>
<path d="M509.10,347.70 h3" stroke="#333" stroke-width="1"/>
<text x="503.30" y="352.00" font-size="12" text-anchor="end">16.0</text>
<path d="M529.16,524.20 v-2.2" stroke="#333" stroke-width="0.8"/>
<path d="M548.69,524.20 v-2.2" stroke="#333" stroke-width="0.8"/>
<path d="M568.22,524.20 v-2.2" stroke="#333" stroke-width="0.8"/>
<path d="M587.75,524.20 v-2.2" stroke="#333" stroke-width="0.8"/>
<path d="M607.28,524.20 v-2.2" stroke="#333" stroke-width="0.8"/>
<path d="M626.81,524.20 v-2.2" stroke="#333" stroke-width="0.8"/>
<path d="M646.34,524.20 v-2.2" stroke="#333" stroke-width="0.8"/>
<text x="519.40" y="540.00" font-size="12" text-anchor="middle">&#8804;1</text>
<text x="538.93" y="540.00" font-size="12" text-anchor="middle">&#8804;2</text>
<text x="558.46" y="540.00" font-size="12" text-anchor="middle">&#8804;3</text>
<text x="577.99" y="540.00" font-size="12" text-anchor="middle">&#8804;4</text>
<text x="597.52" y="540.00" font-size="12" text-anchor="middle">&#8804;5</text>
<text x="617.05" y="540.00" font-size="12" text-anchor="middle">&#8804;6</text>
<text x="636.58" y="540.00" font-size="12" text-anchor="middle">&#8804;7</text>
<text x="656.11" y="540.00" font-size="12" text-anchor="middle">All</text>
<text x="588.80" y="336.00" font-size="12.6" font-weight="bold" text-anchor="middle">All &#8211; EGFR (NetPath)</text>
<text x="587.00" y="556.00" font-size="12.7" text-anchor="middle">SPL (known network)</text>
<text transform="translate(469.30,436.95) rotate(-90)" font-size="12.7" text-anchor="middle">SPL (dynamics-based network)</text>
<rect x="45.80" y="707.98" width="17.10" height="83.32" fill="#5e50c6"/>
<rect x="65.26" y="668.72" width="17.10" height="122.58" fill="#5e50c6"/>
<rect x="84.72" y="654.87" width="17.10" height="136.43" fill="#5e50c6"/>
<rect x="104.18" y="648.83" width="17.10" height="142.47" fill="#5e50c6"/>
<rect x="123.64" y="646.31" width="17.10" height="144.99" fill="#5e50c6"/>
<rect x="143.10" y="648.33" width="17.10" height="142.97" fill="#5e50c6"/>
<rect x="162.56" y="648.58" width="17.10" height="142.72" fill="#5e50c6"/>
<rect x="182.02" y="648.58" width="17.10" height="142.72" fill="#000"/>
<path d="M43.80,614.60 V791.30 H201.40" stroke="#666" stroke-width="1" fill="none"/>
<path d="M43.80,791.30 h3" stroke="#333" stroke-width="1"/>
<text x="38.50" y="795.60" font-size="12" text-anchor="end">0</text>
<path d="M43.80,766.13 h3" stroke="#333" stroke-width="1"/>
<text x="38.50" y="770.43" font-size="12" text-anchor="end">1.0</text>
<path d="M43.80,740.96 h3" stroke="#333" stroke-width="1"/>
<text x="38.50" y="745.26" font-size="12" text-anchor="end">2.0</text>
<path d="M43.80,715.79 h3" stroke="#333" stroke-width="1"/>
<text x="38.50" y="720.09" font-size="12" text-anchor="end">3.0</text>
<path d="M43.80,690.61 h3" stroke="#333" stroke-width="1"/>
<text x="38.50" y="694.91" font-size="12" text-anchor="end">4.0</text>
<path d="M43.80,665.44 h3" stroke="#333" stroke-width="1"/>
<text x="38.50" y="669.74" font-size="12" text-anchor="end">5.0</text>
<path d="M43.80,640.27 h3" stroke="#333" stroke-width="1"/>
<text x="38.50" y="644.57" font-size="12" text-anchor="end">6.0</text>
<path d="M43.80,615.10 h3" stroke="#333" stroke-width="1"/>
<text x="38.50" y="619.40" font-size="12" text-anchor="end">7.0</text>
<path d="M64.08,791.30 v-2.2" stroke="#333" stroke-width="0.8"/>
<path d="M83.54,791.30 v-2.2" stroke="#333" stroke-width="0.8"/>
<path d="M103.00,791.30 v-2.2" stroke="#333" stroke-width="0.8"/>
<path d="M122.46,791.30 v-2.2" stroke="#333" stroke-width="0.8"/>
<path d="M141.92,791.30 v-2.2" stroke="#333" stroke-width="0.8"/>
<path d="M161.38,791.30 v-2.2" stroke="#333" stroke-width="0.8"/>
<path d="M180.84,791.30 v-2.2" stroke="#333" stroke-width="0.8"/>
<text x="54.35" y="806.50" font-size="12" text-anchor="middle">&#8804;1</text>
<text x="73.81" y="806.50" font-size="12" text-anchor="middle">&#8804;2</text>
<text x="93.27" y="806.50" font-size="12" text-anchor="middle">&#8804;3</text>
<text x="112.73" y="806.50" font-size="12" text-anchor="middle">&#8804;4</text>
<text x="132.19" y="806.50" font-size="12" text-anchor="middle">&#8804;5</text>
<text x="151.65" y="806.50" font-size="12" text-anchor="middle">&#8804;6</text>
<text x="171.11" y="806.50" font-size="12" text-anchor="middle">&#8804;7</text>
<text x="190.57" y="806.50" font-size="12" text-anchor="middle">All</text>
<text x="122.60" y="602.50" font-size="12.6" font-weight="bold" text-anchor="middle">Kinases (Phospho.ELM)</text>
<text x="123.00" y="825.00" font-size="12.7" text-anchor="middle">SPL (known network)</text>
<text transform="translate(11.20,704.20) rotate(-90)" font-size="12.7" text-anchor="middle">SPL (dynamics-based network)</text>
<rect x="266.00" y="719.02" width="17.30" height="72.08" fill="#aea8e2"/>
<rect x="285.61" y="737.92" width="17.30" height="53.18" fill="#aea8e2"/>
<rect x="305.22" y="639.33" width="17.30" height="151.77" fill="#aea8e2"/>
<rect x="324.83" y="656.91" width="17.30" height="134.19" fill="#aea8e2"/>
<rect x="344.44" y="660.86" width="17.30" height="130.24" fill="#aea8e2"/>
<rect x="364.05" y="673.17" width="17.30" height="117.93" fill="#aea8e2"/>
<rect x="383.66" y="675.22" width="17.30" height="115.88" fill="#aea8e2"/>
<rect x="403.27" y="676.83" width="17.30" height="114.27" fill="#aea8e2"/>
<rect x="422.88" y="676.83" width="17.30" height="114.27" fill="#000"/>
<path d="M265.30,614.80 V791.10 H440.60" stroke="#666" stroke-width="1" fill="none"/>
<path d="M265.30,791.10 h3" stroke="#333" stroke-width="1"/>
<text x="259.20" y="795.40" font-size="12" text-anchor="end">5.0</text>
<path d="M265.30,761.80 h3" stroke="#333" stroke-width="1"/>
<text x="259.20" y="766.10" font-size="12" text-anchor="end">5.2</text>
<path d="M265.30,732.50 h3" stroke="#333" stroke-width="1"/>
<text x="259.20" y="736.80" font-size="12" text-anchor="end">5.4</text>
<path d="M265.30,703.20 h3" stroke="#333" stroke-width="1"/>
<text x="259.20" y="707.50" font-size="12" text-anchor="end">5.6</text>
<path d="M265.30,673.90 h3" stroke="#333" stroke-width="1"/>
<text x="259.20" y="678.20" font-size="12" text-anchor="end">5.8</text>
<path d="M265.30,644.60 h3" stroke="#333" stroke-width="1"/>
<text x="259.20" y="648.90" font-size="12" text-anchor="end">6.0</text>
<path d="M265.30,615.30 h3" stroke="#333" stroke-width="1"/>
<text x="259.20" y="619.60" font-size="12" text-anchor="end">6.2</text>
<path d="M284.46,791.10 v-2.2" stroke="#333" stroke-width="0.8"/>
<path d="M304.07,791.10 v-2.2" stroke="#333" stroke-width="0.8"/>
<path d="M323.68,791.10 v-2.2" stroke="#333" stroke-width="0.8"/>
<path d="M343.29,791.10 v-2.2" stroke="#333" stroke-width="0.8"/>
<path d="M362.90,791.10 v-2.2" stroke="#333" stroke-width="0.8"/>
<path d="M382.50,791.10 v-2.2" stroke="#333" stroke-width="0.8"/>
<path d="M402.12,791.10 v-2.2" stroke="#333" stroke-width="0.8"/>
<path d="M421.73,791.10 v-2.2" stroke="#333" stroke-width="0.8"/>
<text x="274.65" y="806.50" font-size="12" text-anchor="middle">&#8804;1</text>
<text x="294.26" y="806.50" font-size="12" text-anchor="middle">&#8804;2</text>
<text x="313.87" y="806.50" font-size="12" text-anchor="middle">&#8804;3</text>
<text x="333.48" y="806.50" font-size="12" text-anchor="middle">&#8804;4</text>
<text x="353.09" y="806.50" font-size="12" text-anchor="middle">&#8804;5</text>
<text x="372.70" y="806.50" font-size="12" text-anchor="middle">&#8804;6</text>
<text x="392.31" y="806.50" font-size="12" text-anchor="middle">&#8804;7</text>
<text x="411.92" y="806.50" font-size="12" text-anchor="middle">&#8804;8</text>
<text x="431.53" y="806.50" font-size="12" text-anchor="middle">All</text>
<text x="351.50" y="602.50" font-size="12.6" font-weight="bold" text-anchor="middle">All (Phospho.ELM)</text>
<text x="354.50" y="825.00" font-size="12.7" text-anchor="middle">SPL (known network)</text>
<text transform="translate(231.50,704.20) rotate(-90)" font-size="12.7" text-anchor="middle">SPL (dynamics-based network)</text>
</svg>
</body></html>
